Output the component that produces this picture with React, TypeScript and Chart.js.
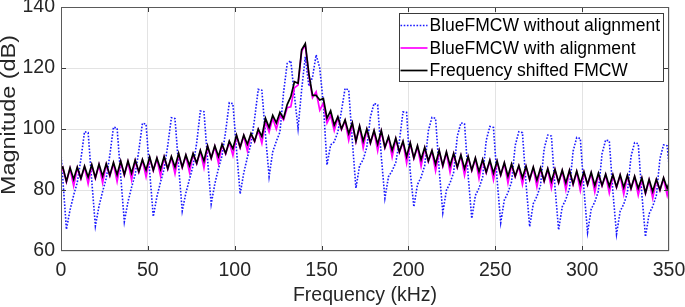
import React, { useEffect, useRef } from "react";
import { Chart, registerables } from "chart.js";

Chart.register(...registerables);

// Frequency bins (kHz): evenly spaced FFT bins
const FREQ_START_KHZ = -1.0417;
const FREQ_STEP_KHZ = 350 / 168;

const X_MIN = 0;
const X_MAX = 350;
const X_STEP = 50;
const Y_MIN = 60;
const Y_MAX = 140;
const Y_STEP = 20;

const SERIES_LABELS = [
  "BlueFMCW without alignment",
  "BlueFMCW with alignment",
  "Frequency shifted FMCW",
];

const X_TITLE = "Frequency (kHz)";
const Y_TITLE = "Magnitude (dB)";

// Magnitude (dB) per bin
const BLUE_NO_ALIGN = [
  100.4, 83.6, 67.1, 73.5, 78.3, 82.5, 90.1, 99.1, 98.8, 83.0,
  68.2, 74.7, 79.5, 83.8, 91.5, 100.6, 100.3, 84.5, 69.6, 76.1,
  80.9, 85.1, 92.9, 101.9, 101.6, 86.0, 71.3, 77.8, 82.6, 86.9,
  94.6, 103.7, 103.4, 87.8, 73.1, 79.0, 83.5, 88.0, 95.5, 105.9,
  105.7, 90.0, 75.4, 82.0, 87.0, 91.3, 99.3, 108.6, 108.3, 93.1,
  78.7, 85.6, 90.7, 95.2, 103.4, 113.0, 112.7, 98.1, 84.4, 92.5,
  96.0, 99.0, 112.0, 121.5, 122.4, 111.0, 100.2, 113.0, 123.7, 114.0,
  117.0, 124.3, 120.0, 108.0, 88.2, 94.8, 95.8, 99.0, 106.0, 113.3,
  112.8, 96.0, 80.6, 88.0, 90.0, 94.0, 104.0, 108.4, 107.9, 91.0,
  77.3, 84.4, 86.3, 89.0, 96.0, 105.6, 105.4, 86.0, 74.5, 81.8,
  84.2, 88.0, 99.4, 103.8, 103.5, 86.6, 72.6, 79.9, 82.3, 85.8,
  97.6, 102.0, 101.7, 84.8, 70.7, 78.2, 80.6, 84.2, 96.3, 100.8,
  100.5, 83.5, 69.3, 76.7, 79.1, 82.7, 94.6, 99.1, 98.8, 82.0,
  68.0, 75.5, 77.9, 81.5, 93.5, 98.0, 97.7, 80.9, 66.9, 74.5,
  76.9, 80.5, 92.7, 97.2, 96.9, 80.1, 66.1, 73.7, 76.1, 79.7,
  91.9, 96.4, 96.1, 79.4, 65.5, 73.0, 75.4, 79.0, 91.0, 95.5,
  95.2, 78.6, 64.7, 72.2, 74.6, 78.2, 90.3, 94.8, 94.5, 82.0,
];

const MAGENTA_ALIGN = [
  84.3, 87.2, 82.6, 87.0, 81.3, 87.2, 83.6, 87.5, 82.0, 88.0,
  83.8, 88.2, 82.3, 88.3, 84.6, 88.7, 82.8, 89.2, 84.8, 89.2,
  83.3, 89.5, 85.8, 89.7, 84.3, 90.5, 86.3, 90.2, 84.6, 90.7,
  86.8, 90.7, 85.3, 91.7, 87.3, 91.2, 85.8, 91.7, 88.6, 92.7,
  87.3, 94.2, 90.3, 94.2, 88.8, 94.7, 91.8, 95.7, 91.3, 97.7,
  93.8, 97.7, 92.8, 98.2, 95.8, 99.7, 95.3, 102.5, 99.0, 103.5,
  100.0, 104.5, 103.0, 107.0, 107.3, 113.5, 114.4, 125.5, 127.5, 117.5,
  110.3, 112.2, 106.2, 108.5, 102.0, 104.5, 99.5, 103.7, 99.8, 102.7,
  96.3, 101.7, 95.8, 100.7, 93.8, 99.7, 95.3, 99.2, 92.8, 99.2,
  93.8, 97.2, 90.8, 96.7, 92.3, 95.7, 88.8, 95.2, 90.3, 94.2,
  87.8, 93.7, 89.3, 92.7, 86.3, 92.7, 87.8, 92.2, 85.8, 91.7,
  87.3, 91.2, 84.8, 90.7, 86.3, 90.2, 83.8, 89.7, 85.6, 89.5,
  83.3, 89.2, 84.8, 88.7, 82.3, 88.2, 84.3, 87.7, 81.8, 87.5,
  83.3, 87.2, 81.0, 86.9, 82.8, 86.7, 80.6, 86.5, 82.3, 86.2,
  80.1, 86.2, 81.8, 85.9, 79.8, 85.7, 81.6, 85.5, 79.3, 85.2,
  81.3, 84.9, 79.0, 84.7, 80.8, 84.7, 78.6, 84.5, 80.3, 84.2,
  78.3, 83.7, 78.8, 83.2, 77.3, 83.2, 79.8, 83.7, 78.3, 83.7,
];

const BLACK_SHIFTED = [
  86.5, 87.5, 82.8, 87.3, 83.5, 87.5, 83.8, 87.8, 84.2, 88.3,
  84.0, 88.5, 84.5, 88.6, 84.8, 89.0, 85.0, 89.5, 85.0, 89.5,
  85.5, 89.8, 86.0, 90.0, 86.5, 90.8, 86.5, 90.5, 86.8, 91.0,
  87.0, 91.0, 87.5, 92.0, 87.5, 91.5, 88.0, 92.0, 88.8, 93.0,
  89.5, 94.5, 90.5, 94.5, 91.0, 95.0, 92.0, 96.0, 93.5, 98.0,
  94.0, 98.0, 95.0, 98.5, 96.0, 100.0, 97.5, 103.5, 100.5, 104.5,
  102.0, 105.5, 103.5, 108.0, 110.6, 115.5, 115.0, 126.0, 128.0, 118.0,
  111.0, 111.0, 109.5, 110.0, 103.5, 106.0, 101.3, 104.0, 100.0, 103.0,
  98.5, 102.0, 96.0, 101.0, 96.0, 100.0, 95.5, 99.5, 95.0, 99.5,
  94.0, 97.5, 93.0, 97.0, 92.5, 96.0, 91.0, 95.5, 90.5, 94.5,
  90.0, 94.0, 89.5, 93.0, 88.5, 93.0, 88.0, 92.5, 88.0, 92.0,
  87.5, 91.5, 87.0, 91.0, 86.5, 90.5, 86.0, 90.0, 85.8, 89.8,
  85.5, 89.5, 85.0, 89.0, 84.5, 88.5, 84.5, 88.0, 84.0, 87.8,
  83.5, 87.5, 83.2, 87.2, 83.0, 87.0, 82.8, 86.8, 82.5, 86.5,
  82.3, 86.5, 82.0, 86.2, 82.0, 86.0, 81.8, 85.8, 81.5, 85.5,
  81.5, 85.2, 81.2, 85.0, 81.0, 85.0, 80.8, 84.8, 80.5, 84.5,
  80.5, 84.0, 79.0, 83.5, 79.5, 83.5, 80.0, 84.0, 80.5, 84.0,
];

const COLORS = ["rgb(25,25,255)", "rgb(255,0,255)", "rgb(0,0,0)"];
const FONT = "'Liberation Sans', Arial, Helvetica, sans-serif";
const TEXT_COLOR = "#262626";

export default function App() {
  const canvasRef = useRef<HTMLCanvasElement | null>(null);

  useEffect(() => {
    const canvas = canvasRef.current;
    if (!canvas) return;

    const freq = BLUE_NO_ALIGN.map((_, j) => FREQ_START_KHZ + j * FREQ_STEP_KHZ);
    const toPoints = (arr: number[]) => arr.map((y, j) => ({ x: freq[j], y }));

    const framePlugin = {
      id: "matlabFrame",
      afterDraw(chart: any) {
        const { ctx, chartArea: a, scales } = chart;
        ctx.save();
        // inward ticks
        ctx.strokeStyle = "#3a3a3a";
        ctx.lineWidth = 1;
        const tl = 5;
        ctx.beginPath();
        for (let v = X_MIN + X_STEP; v < X_MAX; v += X_STEP) {
          const px = Math.round(scales.x.getPixelForValue(v)) + 0.5;
          ctx.moveTo(px, a.bottom);
          ctx.lineTo(px, a.bottom - tl);
          ctx.moveTo(px, a.top);
          ctx.lineTo(px, a.top + tl);
        }
        for (let v = Y_MIN + Y_STEP; v < Y_MAX; v += Y_STEP) {
          const py = Math.round(scales.y.getPixelForValue(v)) + 0.5;
          ctx.moveTo(a.left, py);
          ctx.lineTo(a.left + tl, py);
          ctx.moveTo(a.right, py);
          ctx.lineTo(a.right - tl, py);
        }
        ctx.stroke();
        // box
        ctx.strokeStyle = "#5a5a5a";
        ctx.strokeRect(
          Math.round(a.left) + 0.5,
          Math.round(a.top) + 0.5,
          Math.round(a.right - a.left) - 1,
          Math.round(a.bottom - a.top) - 1
        );

        // y-axis title
        ctx.save();
        ctx.translate(a.left - 51.5, (a.top + a.bottom) / 2 - 14);
        ctx.rotate(-Math.PI / 2);
        ctx.scale(1.2, 1);
        ctx.font = `19.5px ${FONT}`;
        ctx.fillStyle = TEXT_COLOR;
        ctx.textAlign = "center";
        ctx.textBaseline = "middle";
        ctx.fillText(Y_TITLE, 0, 0);
        ctx.restore();

        // legend
        const boxW = 264;
        const boxH = 68;
        const bx = Math.round(a.right - 6 - boxW) + 0.5;
        const by = Math.round(a.top + 6) + 0.5;
        ctx.fillStyle = "#ffffff";
        ctx.fillRect(bx, by, boxW, boxH);
        ctx.strokeStyle = "#3a3a3a";
        ctx.lineWidth = 1;
        ctx.strokeRect(bx, by, boxW, boxH);
        const rows = [12, 34.5, 57];
        ctx.font = `17.5px ${FONT}`;
        ctx.textBaseline = "middle";
        ctx.textAlign = "left";
        chart.data.datasets.forEach((ds: any, i: number) => {
          const y = by + rows[i];
          ctx.save();
          ctx.strokeStyle = ds.borderColor;
          ctx.lineWidth = ds.borderWidth;
          ctx.setLineDash(ds.borderDash || []);
          ctx.beginPath();
          ctx.moveTo(bx + 1, y);
          ctx.lineTo(bx + 28, y);
          ctx.stroke();
          ctx.restore();
          ctx.fillStyle = "#000";
          ctx.fillText(ds.label, bx + 30, y + 1);
        });
        ctx.restore();
      },
    };

    const chart = new Chart(canvas, {
      type: "line",
      data: {
        datasets: [
          {
            label: SERIES_LABELS[0],
            data: toPoints(BLUE_NO_ALIGN),
            borderColor: COLORS[0],
            borderWidth: 1.6,
            borderDash: [1.6, 1.6],
            pointRadius: 0,
            tension: 0,
            order: 2,
          },
          {
            label: SERIES_LABELS[1],
            data: toPoints(MAGENTA_ALIGN),
            borderColor: COLORS[1],
            borderWidth: 1.7,
            pointRadius: 0,
            tension: 0,
            order: 1,
          },
          {
            label: SERIES_LABELS[2],
            data: toPoints(BLACK_SHIFTED),
            borderColor: COLORS[2],
            borderWidth: 1.7,
            pointRadius: 0,
            tension: 0,
            order: 0,
          },
        ],
      },
      options: {
        responsive: false,
        devicePixelRatio: 1,
        animation: false,
        events: [],
        layout: { padding: { top: 7, right: 16, bottom: 0, left: 0 } },
        plugins: {
          legend: { display: false },
          tooltip: { enabled: false },
        },
        scales: {
          x: {
            type: "linear",
            min: X_MIN,
            max: X_MAX,
            border: { display: false },
            grid: { color: "#e3e3e3", lineWidth: 1, drawTicks: false },
            ticks: {
              stepSize: X_STEP,
              autoSkip: false,
              maxRotation: 0,
              padding: 8,
              color: TEXT_COLOR,
              font: { family: FONT, size: 19.5 },
            },
            title: {
              display: true,
              text: X_TITLE,
              color: TEXT_COLOR,
              padding: 0,
              font: { family: FONT, size: 19.5, lineHeight: 1.2 },
            },
            afterFit: (s: any) => {
              s.height = 56;
              s.paddingLeft = 0;
              s.paddingRight = 0;
            },
          },
          y: {
            min: Y_MIN,
            max: Y_MAX,
            border: { display: false },
            grid: { color: "#e3e3e3", lineWidth: 1, drawTicks: false },
            ticks: {
              stepSize: Y_STEP,
              padding: 6,
              color: TEXT_COLOR,
              font: { family: FONT, size: 19.5 },
            },
            title: { display: false, text: Y_TITLE },
            afterFit: (s: any) => {
              s.width = 61;
              s.paddingTop = 0;
              s.paddingBottom = 0;
            },
          },
        },
      },
      plugins: [framePlugin],
    } as any);

    return () => {
      chart.destroy();
    };
  }, []);

  return (
    <div
      style={{
        position: "absolute",
        left: 0,
        top: 0,
        width: 685,
        height: 307,
        background: "#ffffff",
      }}
    >
      <canvas
        ref={canvasRef}
        width={685}
        height={307}
        style={{ display: "block", width: 685, height: 307 }}
      />
    </div>
  );
}
